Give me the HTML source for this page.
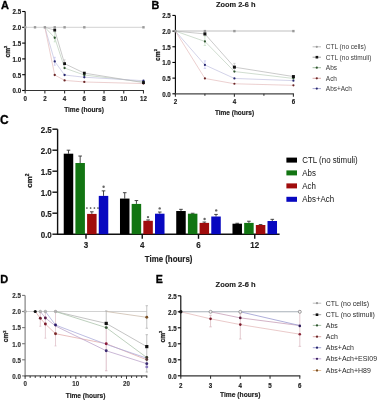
<!DOCTYPE html><html><head><meta charset="utf-8"><style>html,body{margin:0;padding:0;background:#fff;overflow:hidden}svg{display:block;filter:blur(0.25px)}</style></head><body>
<svg width="378" height="400" viewBox="0 0 378 400" font-family='"Liberation Sans", sans-serif'>
<rect width="378" height="400" fill="#fff"/>
<text x="4.90" y="8.70" font-size="11" text-anchor="middle" font-weight="bold" fill="#000" stroke="#000" stroke-width="0.3">A</text>
<line x1="25.15" y1="11.50" x2="25.15" y2="91.05" stroke="#000" stroke-width="1.1" />
<line x1="22.15" y1="11.50" x2="25.15" y2="11.50" stroke="#000" stroke-width="1.1" />
<text transform="translate(21.20 14.35) scale(1 1.07)" font-size="6.2" text-anchor="end" font-weight="bold" fill="#1c1c1c"  stroke="#1c1c1c" stroke-width="0.15">2.5</text>
<line x1="22.15" y1="27.30" x2="25.15" y2="27.30" stroke="#000" stroke-width="1.1" />
<text transform="translate(21.20 30.15) scale(1 1.07)" font-size="6.2" text-anchor="end" font-weight="bold" fill="#1c1c1c"  stroke="#1c1c1c" stroke-width="0.15">2.0</text>
<line x1="22.15" y1="43.10" x2="25.15" y2="43.10" stroke="#000" stroke-width="1.1" />
<text transform="translate(21.20 45.95) scale(1 1.07)" font-size="6.2" text-anchor="end" font-weight="bold" fill="#1c1c1c"  stroke="#1c1c1c" stroke-width="0.15">1.5</text>
<line x1="22.15" y1="58.90" x2="25.15" y2="58.90" stroke="#000" stroke-width="1.1" />
<text transform="translate(21.20 61.75) scale(1 1.07)" font-size="6.2" text-anchor="end" font-weight="bold" fill="#1c1c1c"  stroke="#1c1c1c" stroke-width="0.15">1.0</text>
<line x1="22.15" y1="74.70" x2="25.15" y2="74.70" stroke="#000" stroke-width="1.1" />
<text transform="translate(21.20 77.55) scale(1 1.07)" font-size="6.2" text-anchor="end" font-weight="bold" fill="#1c1c1c"  stroke="#1c1c1c" stroke-width="0.15">0.5</text>
<line x1="22.15" y1="90.50" x2="25.15" y2="90.50" stroke="#000" stroke-width="1.1" />
<text transform="translate(21.20 93.35) scale(1 1.07)" font-size="6.2" text-anchor="end" font-weight="bold" fill="#1c1c1c"  stroke="#1c1c1c" stroke-width="0.15">0.0</text>
<line x1="24.65" y1="90.50" x2="143.97" y2="90.50" stroke="#333" stroke-width="1.2" />
<line x1="25.15" y1="90.50" x2="25.15" y2="93.50" stroke="#333" stroke-width="1.1" />
<text transform="translate(25.15 100.60) scale(1 1.07)" font-size="6.2" text-anchor="middle" font-weight="bold" fill="#1c1c1c"  stroke="#1c1c1c" stroke-width="0.15">0</text>
<line x1="44.87" y1="90.50" x2="44.87" y2="93.50" stroke="#333" stroke-width="1.1" />
<text transform="translate(44.87 100.60) scale(1 1.07)" font-size="6.2" text-anchor="middle" font-weight="bold" fill="#1c1c1c"  stroke="#1c1c1c" stroke-width="0.15">2</text>
<line x1="64.59" y1="90.50" x2="64.59" y2="93.50" stroke="#333" stroke-width="1.1" />
<text transform="translate(64.59 100.60) scale(1 1.07)" font-size="6.2" text-anchor="middle" font-weight="bold" fill="#1c1c1c"  stroke="#1c1c1c" stroke-width="0.15">4</text>
<line x1="84.31" y1="90.50" x2="84.31" y2="93.50" stroke="#333" stroke-width="1.1" />
<text transform="translate(84.31 100.60) scale(1 1.07)" font-size="6.2" text-anchor="middle" font-weight="bold" fill="#1c1c1c"  stroke="#1c1c1c" stroke-width="0.15">6</text>
<line x1="104.03" y1="90.50" x2="104.03" y2="93.50" stroke="#333" stroke-width="1.1" />
<text transform="translate(104.03 100.60) scale(1 1.07)" font-size="6.2" text-anchor="middle" font-weight="bold" fill="#1c1c1c"  stroke="#1c1c1c" stroke-width="0.15">8</text>
<line x1="123.75" y1="90.50" x2="123.75" y2="93.50" stroke="#333" stroke-width="1.1" />
<text transform="translate(123.75 100.60) scale(1 1.07)" font-size="6.2" text-anchor="middle" font-weight="bold" fill="#1c1c1c"  stroke="#1c1c1c" stroke-width="0.15">10</text>
<line x1="143.47" y1="90.50" x2="143.47" y2="93.50" stroke="#333" stroke-width="1.1" />
<text transform="translate(143.47 100.60) scale(1 1.07)" font-size="6.2" text-anchor="middle" font-weight="bold" fill="#1c1c1c"  stroke="#1c1c1c" stroke-width="0.15">12</text>
<text transform="translate(84.00 111.50) scale(1 1.05)" font-size="6.6" text-anchor="middle" font-weight="bold" fill="#1c1c1c"  stroke="#1c1c1c" stroke-width="0.15">Time (hours)</text>
<text x="9.90" y="51.60" font-size="6.6" font-weight="bold" fill="#1c1c1c" stroke="#1c1c1c" stroke-width="0.25" text-anchor="middle" transform="rotate(-90 9.90 51.60)">cm<tspan font-size="3.96" dy="-2.64">2</tspan></text>
<polyline points="25.15,27.30 35.01,27.30 44.87,27.30 54.73,27.30 64.59,27.30 84.31,27.30 143.47,27.30" fill="none" stroke="#d2d2d2" stroke-width="1.0" opacity="1" />
<polyline points="44.87,27.30 54.73,37.73 64.59,68.06 84.31,75.02 143.47,81.97" fill="none" stroke="#bccebc" stroke-width="0.7" opacity="1" />
<polyline points="44.87,27.30 54.73,61.43 64.59,75.02 84.31,77.23 143.47,80.70" fill="none" stroke="#c0c0e0" stroke-width="0.7" opacity="1" />
<polyline points="44.87,27.30 54.73,75.02 64.59,80.39 84.31,81.97 143.47,83.55" fill="none" stroke="#e4bcbc" stroke-width="0.7" opacity="1" />
<polyline points="44.87,27.30 54.73,30.14 64.59,63.64 84.31,73.12 143.47,82.60" fill="none" stroke="#b4b4b4" stroke-width="0.7" opacity="1" />
<line x1="54.73" y1="32.36" x2="54.73" y2="41.84" stroke="#b8d8b8" stroke-width="0.6" />
<line x1="53.73" y1="32.36" x2="55.73" y2="32.36" stroke="#b8d8b8" stroke-width="0.6" />
<line x1="53.73" y1="41.84" x2="55.73" y2="41.84" stroke="#b8d8b8" stroke-width="0.6" />
<line x1="54.73" y1="57.32" x2="54.73" y2="65.22" stroke="#b8b8ee" stroke-width="0.6" />
<line x1="53.73" y1="57.32" x2="55.73" y2="57.32" stroke="#b8b8ee" stroke-width="0.6" />
<line x1="53.73" y1="65.22" x2="55.73" y2="65.22" stroke="#b8b8ee" stroke-width="0.6" />
<line x1="64.59" y1="59.85" x2="64.59" y2="67.75" stroke="#bbbbbb" stroke-width="0.6" />
<line x1="63.59" y1="59.85" x2="65.59" y2="59.85" stroke="#bbbbbb" stroke-width="0.6" />
<line x1="63.59" y1="67.75" x2="65.59" y2="67.75" stroke="#bbbbbb" stroke-width="0.6" />
<rect x="23.95" y="26.10" width="2.40" height="2.40" fill="#9a9a9a" />
<rect x="33.81" y="26.10" width="2.40" height="2.40" fill="#9a9a9a" />
<rect x="43.67" y="26.10" width="2.40" height="2.40" fill="#9a9a9a" />
<rect x="53.53" y="26.10" width="2.40" height="2.40" fill="#9a9a9a" />
<rect x="63.39" y="26.10" width="2.40" height="2.40" fill="#9a9a9a" />
<rect x="83.11" y="26.10" width="2.40" height="2.40" fill="#9a9a9a" />
<rect x="142.27" y="26.10" width="2.40" height="2.40" fill="#9a9a9a" />
<circle cx="54.73" cy="37.73" r="1.15" fill="#2f552f" stroke="none" stroke-width="0"/>
<circle cx="64.59" cy="68.06" r="1.15" fill="#2f552f" stroke="none" stroke-width="0"/>
<circle cx="84.31" cy="75.02" r="1.15" fill="#2f552f" stroke="none" stroke-width="0"/>
<circle cx="143.47" cy="81.97" r="1.15" fill="#2f552f" stroke="none" stroke-width="0"/>
<circle cx="54.73" cy="61.43" r="1.15" fill="#26266e" stroke="none" stroke-width="0"/>
<circle cx="64.59" cy="75.02" r="1.15" fill="#26266e" stroke="none" stroke-width="0"/>
<circle cx="84.31" cy="77.23" r="1.15" fill="#26266e" stroke="none" stroke-width="0"/>
<circle cx="143.47" cy="80.70" r="1.15" fill="#26266e" stroke="none" stroke-width="0"/>
<circle cx="54.73" cy="75.02" r="1.15" fill="#6a2626" stroke="none" stroke-width="0"/>
<circle cx="64.59" cy="80.39" r="1.15" fill="#6a2626" stroke="none" stroke-width="0"/>
<circle cx="84.31" cy="81.97" r="1.15" fill="#6a2626" stroke="none" stroke-width="0"/>
<circle cx="143.47" cy="83.55" r="1.15" fill="#6a2626" stroke="none" stroke-width="0"/>
<rect x="53.33" y="28.74" width="2.80" height="2.80" fill="#111" />
<rect x="63.19" y="62.24" width="2.80" height="2.80" fill="#111" />
<rect x="82.91" y="71.72" width="2.80" height="2.80" fill="#111" />
<rect x="142.07" y="81.20" width="2.80" height="2.80" fill="#111" />
<text x="155.40" y="8.55" font-size="10.8" text-anchor="middle" font-weight="bold" fill="#000" stroke="#000" stroke-width="0.3">B</text>
<text x="235.80" y="6.60" font-size="7.4" text-anchor="middle" font-weight="bold" fill="#1c1c1c"  stroke="#1c1c1c" stroke-width="0.15">Zoom 2-6 h</text>
<line x1="175.40" y1="15.42" x2="175.40" y2="94.35" stroke="#000" stroke-width="1.1" />
<line x1="172.40" y1="15.42" x2="175.40" y2="15.42" stroke="#000" stroke-width="1.1" />
<text transform="translate(170.80 18.28) scale(1 1.07)" font-size="6.2" text-anchor="end" font-weight="bold" fill="#1c1c1c"  stroke="#1c1c1c" stroke-width="0.15">2.5</text>
<line x1="172.40" y1="31.10" x2="175.40" y2="31.10" stroke="#000" stroke-width="1.1" />
<text transform="translate(170.80 33.95) scale(1 1.07)" font-size="6.2" text-anchor="end" font-weight="bold" fill="#1c1c1c"  stroke="#1c1c1c" stroke-width="0.15">2.0</text>
<line x1="172.40" y1="46.77" x2="175.40" y2="46.77" stroke="#000" stroke-width="1.1" />
<text transform="translate(170.80 49.63) scale(1 1.07)" font-size="6.2" text-anchor="end" font-weight="bold" fill="#1c1c1c"  stroke="#1c1c1c" stroke-width="0.15">1.5</text>
<line x1="172.40" y1="62.45" x2="175.40" y2="62.45" stroke="#000" stroke-width="1.1" />
<text transform="translate(170.80 65.30) scale(1 1.07)" font-size="6.2" text-anchor="end" font-weight="bold" fill="#1c1c1c"  stroke="#1c1c1c" stroke-width="0.15">1.0</text>
<line x1="172.40" y1="78.12" x2="175.40" y2="78.12" stroke="#000" stroke-width="1.1" />
<text transform="translate(170.80 80.98) scale(1 1.07)" font-size="6.2" text-anchor="end" font-weight="bold" fill="#1c1c1c"  stroke="#1c1c1c" stroke-width="0.15">0.5</text>
<line x1="172.40" y1="93.80" x2="175.40" y2="93.80" stroke="#000" stroke-width="1.1" />
<text transform="translate(170.80 96.65) scale(1 1.07)" font-size="6.2" text-anchor="end" font-weight="bold" fill="#1c1c1c"  stroke="#1c1c1c" stroke-width="0.15">0.0</text>
<line x1="174.90" y1="93.80" x2="293.90" y2="93.80" stroke="#444" stroke-width="1.3" />
<line x1="175.40" y1="93.80" x2="175.40" y2="96.80" stroke="#333" stroke-width="1.1" />
<text transform="translate(175.40 104.20) scale(1 1.07)" font-size="6.2" text-anchor="middle" font-weight="bold" fill="#1c1c1c"  stroke="#1c1c1c" stroke-width="0.15">2</text>
<line x1="204.90" y1="93.80" x2="204.90" y2="95.80" stroke="#333" stroke-width="1.1" />
<line x1="234.40" y1="93.80" x2="234.40" y2="96.80" stroke="#333" stroke-width="1.1" />
<text transform="translate(234.40 104.20) scale(1 1.07)" font-size="6.2" text-anchor="middle" font-weight="bold" fill="#1c1c1c"  stroke="#1c1c1c" stroke-width="0.15">4</text>
<line x1="263.90" y1="93.80" x2="263.90" y2="95.80" stroke="#333" stroke-width="1.1" />
<line x1="293.40" y1="93.80" x2="293.40" y2="96.80" stroke="#333" stroke-width="1.1" />
<text transform="translate(293.40 104.20) scale(1 1.07)" font-size="6.2" text-anchor="middle" font-weight="bold" fill="#1c1c1c"  stroke="#1c1c1c" stroke-width="0.15">6</text>
<text transform="translate(234.50 114.90) scale(1 1.05)" font-size="6.5" text-anchor="middle" font-weight="bold" fill="#1c1c1c"  stroke="#1c1c1c" stroke-width="0.15">Time (hours)</text>
<text x="159.60" y="55.00" font-size="6.6" font-weight="bold" fill="#1c1c1c" stroke="#1c1c1c" stroke-width="0.25" text-anchor="middle" transform="rotate(-90 159.60 55.00)">cm<tspan font-size="3.96" dy="-2.64">2</tspan></text>
<polyline points="175.40,31.10 204.90,31.10 234.40,31.10 293.40,31.10" fill="none" stroke="#d4d4d4" stroke-width="1.5" opacity="1" />
<polyline points="175.40,31.10 204.90,41.45 234.40,71.54 293.40,78.44" fill="none" stroke="#bccebc" stroke-width="0.7" opacity="1" />
<polyline points="175.40,31.10 204.90,64.96 234.40,78.44 293.40,80.63" fill="none" stroke="#c0c0e0" stroke-width="0.7" opacity="1" />
<polyline points="175.40,31.10 204.90,78.44 234.40,83.77 293.40,85.34" fill="none" stroke="#e4bcbc" stroke-width="0.7" opacity="1" />
<polyline points="175.40,31.10 204.90,33.92 234.40,67.15 293.40,76.56" fill="none" stroke="#b4b4b4" stroke-width="0.7" opacity="1" />
<line x1="204.90" y1="36.12" x2="204.90" y2="45.52" stroke="#b8d8b8" stroke-width="0.6" />
<line x1="203.70" y1="36.12" x2="206.10" y2="36.12" stroke="#b8d8b8" stroke-width="0.6" />
<line x1="203.70" y1="45.52" x2="206.10" y2="45.52" stroke="#b8d8b8" stroke-width="0.6" />
<line x1="204.90" y1="60.88" x2="204.90" y2="68.41" stroke="#b8b8ee" stroke-width="0.6" />
<line x1="203.70" y1="60.88" x2="206.10" y2="60.88" stroke="#b8b8ee" stroke-width="0.6" />
<line x1="203.70" y1="68.41" x2="206.10" y2="68.41" stroke="#b8b8ee" stroke-width="0.6" />
<line x1="204.90" y1="31.10" x2="204.90" y2="35.49" stroke="#bbbbbb" stroke-width="0.6" />
<line x1="203.70" y1="31.10" x2="206.10" y2="31.10" stroke="#bbbbbb" stroke-width="0.6" />
<line x1="203.70" y1="35.49" x2="206.10" y2="35.49" stroke="#bbbbbb" stroke-width="0.6" />
<line x1="234.40" y1="63.39" x2="234.40" y2="71.23" stroke="#bbbbbb" stroke-width="0.6" />
<line x1="233.20" y1="63.39" x2="235.60" y2="63.39" stroke="#bbbbbb" stroke-width="0.6" />
<line x1="233.20" y1="71.23" x2="235.60" y2="71.23" stroke="#bbbbbb" stroke-width="0.6" />
<rect x="174.20" y="29.90" width="2.40" height="2.40" fill="#9a9a9a" />
<rect x="203.70" y="29.90" width="2.40" height="2.40" fill="#9a9a9a" />
<rect x="233.20" y="29.90" width="2.40" height="2.40" fill="#9a9a9a" />
<rect x="292.20" y="29.90" width="2.40" height="2.40" fill="#9a9a9a" />
<circle cx="204.90" cy="41.45" r="1.1" fill="#2f552f" stroke="none" stroke-width="0"/>
<circle cx="234.40" cy="71.54" r="1.1" fill="#2f552f" stroke="none" stroke-width="0"/>
<circle cx="293.40" cy="78.44" r="1.1" fill="#2f552f" stroke="none" stroke-width="0"/>
<circle cx="204.90" cy="64.96" r="1.1" fill="#26266e" stroke="none" stroke-width="0"/>
<circle cx="234.40" cy="78.44" r="1.1" fill="#26266e" stroke="none" stroke-width="0"/>
<circle cx="293.40" cy="80.63" r="1.1" fill="#26266e" stroke="none" stroke-width="0"/>
<circle cx="204.90" cy="78.44" r="1.1" fill="#6a2626" stroke="none" stroke-width="0"/>
<circle cx="234.40" cy="83.77" r="1.1" fill="#6a2626" stroke="none" stroke-width="0"/>
<circle cx="293.40" cy="85.34" r="1.1" fill="#6a2626" stroke="none" stroke-width="0"/>
<rect x="203.40" y="32.42" width="3.00" height="3.00" fill="#111" />
<rect x="232.90" y="65.65" width="3.00" height="3.00" fill="#111" />
<rect x="291.90" y="75.06" width="3.00" height="3.00" fill="#111" />
<line x1="312.60" y1="46.80" x2="321.00" y2="46.80" stroke="#b8b8b8" stroke-width="0.9" />
<circle cx="316.80" cy="46.80" r="1.1" fill="#9a9a9a" stroke="none" stroke-width="0"/>
<text transform="translate(325.80 49.30) scale(1 1.07)" font-size="6.5" text-anchor="start" font-weight="normal" fill="#3a3a3a" >CTL (no cells)</text>
<line x1="312.60" y1="57.20" x2="321.00" y2="57.20" stroke="#999" stroke-width="0.9" />
<rect x="315.60" y="55.90" width="2.60" height="2.60" fill="#111" />
<text transform="translate(325.80 59.70) scale(1 1.07)" font-size="6.5" text-anchor="start" font-weight="normal" fill="#3a3a3a" >CTL (no stimuli)</text>
<line x1="312.60" y1="67.70" x2="321.00" y2="67.70" stroke="#9ab89a" stroke-width="0.9" />
<circle cx="316.80" cy="67.70" r="1.1" fill="#2f552f" stroke="none" stroke-width="0"/>
<text transform="translate(325.80 70.20) scale(1 1.07)" font-size="6.5" text-anchor="start" font-weight="normal" fill="#3a3a3a" >Abs</text>
<line x1="312.60" y1="78.30" x2="321.00" y2="78.30" stroke="#d8a0a0" stroke-width="0.9" />
<circle cx="316.80" cy="78.30" r="1.1" fill="#6a2626" stroke="none" stroke-width="0"/>
<text transform="translate(325.80 80.80) scale(1 1.07)" font-size="6.5" text-anchor="start" font-weight="normal" fill="#3a3a3a" >Ach</text>
<line x1="312.60" y1="88.60" x2="321.00" y2="88.60" stroke="#a0a0d0" stroke-width="0.9" />
<circle cx="316.80" cy="88.60" r="1.1" fill="#26266e" stroke="none" stroke-width="0"/>
<text transform="translate(325.80 91.10) scale(1 1.07)" font-size="6.5" text-anchor="start" font-weight="normal" fill="#3a3a3a" >Abs+Ach</text>
<text x="4.35" y="124.00" font-size="12" text-anchor="middle" font-weight="bold" fill="#000" stroke="#000" stroke-width="0.3">C</text>
<line x1="57.60" y1="129.30" x2="57.60" y2="234.90" stroke="#111" stroke-width="1.4" />
<line x1="56.90" y1="234.20" x2="279.60" y2="234.20" stroke="#111" stroke-width="1.4" />
<line x1="52.40" y1="129.20" x2="57.60" y2="129.20" stroke="#111" stroke-width="1.4" />
<text transform="translate(51.80 132.60) scale(1 1.04)" font-size="8.0" text-anchor="end" font-weight="bold" fill="#1c1c1c"  stroke="#1c1c1c" stroke-width="0.15">2.5</text>
<line x1="52.40" y1="150.20" x2="57.60" y2="150.20" stroke="#111" stroke-width="1.4" />
<text transform="translate(51.80 153.60) scale(1 1.04)" font-size="8.0" text-anchor="end" font-weight="bold" fill="#1c1c1c"  stroke="#1c1c1c" stroke-width="0.15">2.0</text>
<line x1="52.40" y1="171.20" x2="57.60" y2="171.20" stroke="#111" stroke-width="1.4" />
<text transform="translate(51.80 174.60) scale(1 1.04)" font-size="8.0" text-anchor="end" font-weight="bold" fill="#1c1c1c"  stroke="#1c1c1c" stroke-width="0.15">1.5</text>
<line x1="52.40" y1="192.20" x2="57.60" y2="192.20" stroke="#111" stroke-width="1.4" />
<text transform="translate(51.80 195.60) scale(1 1.04)" font-size="8.0" text-anchor="end" font-weight="bold" fill="#1c1c1c"  stroke="#1c1c1c" stroke-width="0.15">1.0</text>
<line x1="52.40" y1="213.20" x2="57.60" y2="213.20" stroke="#111" stroke-width="1.4" />
<text transform="translate(51.80 216.60) scale(1 1.04)" font-size="8.0" text-anchor="end" font-weight="bold" fill="#1c1c1c"  stroke="#1c1c1c" stroke-width="0.15">0.5</text>
<line x1="52.40" y1="234.20" x2="57.60" y2="234.20" stroke="#111" stroke-width="1.4" />
<text transform="translate(51.80 237.60) scale(1 1.04)" font-size="8.0" text-anchor="end" font-weight="bold" fill="#1c1c1c"  stroke="#1c1c1c" stroke-width="0.15">0.0</text>
<line x1="86.00" y1="234.20" x2="86.00" y2="238.80" stroke="#111" stroke-width="1.4" />
<text transform="translate(86.00 247.50) scale(1 1.04)" font-size="8.0" text-anchor="middle" font-weight="bold" fill="#1c1c1c"  stroke="#1c1c1c" stroke-width="0.15">3</text>
<line x1="68.48" y1="150.20" x2="68.48" y2="153.69" stroke="#333" stroke-width="0.9" />
<line x1="66.68" y1="150.20" x2="70.28" y2="150.20" stroke="#333" stroke-width="0.9" />
<rect x="63.73" y="153.69" width="9.50" height="80.51" fill="#000000" />
<line x1="80.16" y1="156.04" x2="80.16" y2="163.01" stroke="#333" stroke-width="0.9" />
<line x1="78.36" y1="156.04" x2="81.96" y2="156.04" stroke="#333" stroke-width="0.9" />
<rect x="75.41" y="163.01" width="9.50" height="71.19" fill="#127512" />
<line x1="91.84" y1="211.81" x2="91.84" y2="213.91" stroke="#333" stroke-width="0.9" />
<line x1="90.04" y1="211.81" x2="93.64" y2="211.81" stroke="#333" stroke-width="0.9" />
<rect x="87.09" y="213.91" width="9.50" height="20.29" fill="#a00c0c" />
<line x1="103.52" y1="190.86" x2="103.52" y2="195.90" stroke="#333" stroke-width="0.9" />
<line x1="101.72" y1="190.86" x2="105.32" y2="190.86" stroke="#333" stroke-width="0.9" />
<rect x="98.77" y="195.90" width="9.50" height="38.30" fill="#0808c0" />
<line x1="142.25" y1="234.20" x2="142.25" y2="238.80" stroke="#111" stroke-width="1.4" />
<text transform="translate(142.25 247.50) scale(1 1.04)" font-size="8.0" text-anchor="middle" font-weight="bold" fill="#1c1c1c"  stroke="#1c1c1c" stroke-width="0.15">4</text>
<line x1="124.73" y1="192.70" x2="124.73" y2="198.58" stroke="#333" stroke-width="0.9" />
<line x1="122.93" y1="192.70" x2="126.53" y2="192.70" stroke="#333" stroke-width="0.9" />
<rect x="119.98" y="198.58" width="9.50" height="35.62" fill="#000000" />
<line x1="136.41" y1="200.56" x2="136.41" y2="203.92" stroke="#333" stroke-width="0.9" />
<line x1="134.61" y1="200.56" x2="138.21" y2="200.56" stroke="#333" stroke-width="0.9" />
<rect x="131.66" y="203.92" width="9.50" height="30.28" fill="#127512" />
<line x1="148.09" y1="219.96" x2="148.09" y2="220.80" stroke="#333" stroke-width="0.9" />
<line x1="146.29" y1="219.96" x2="149.89" y2="219.96" stroke="#333" stroke-width="0.9" />
<rect x="143.34" y="220.80" width="9.50" height="13.40" fill="#a00c0c" />
<line x1="159.77" y1="212.02" x2="159.77" y2="213.70" stroke="#333" stroke-width="0.9" />
<line x1="157.97" y1="212.02" x2="161.57" y2="212.02" stroke="#333" stroke-width="0.9" />
<rect x="155.02" y="213.70" width="9.50" height="20.50" fill="#0808c0" />
<line x1="198.50" y1="234.20" x2="198.50" y2="238.80" stroke="#111" stroke-width="1.4" />
<text transform="translate(198.50 247.50) scale(1 1.04)" font-size="8.0" text-anchor="middle" font-weight="bold" fill="#1c1c1c"  stroke="#1c1c1c" stroke-width="0.15">6</text>
<line x1="180.98" y1="209.34" x2="180.98" y2="211.02" stroke="#333" stroke-width="0.9" />
<line x1="179.18" y1="209.34" x2="182.78" y2="209.34" stroke="#333" stroke-width="0.9" />
<rect x="176.23" y="211.02" width="9.50" height="23.18" fill="#000000" />
<line x1="192.66" y1="213.28" x2="192.66" y2="213.70" stroke="#333" stroke-width="0.9" />
<line x1="190.86" y1="213.28" x2="194.46" y2="213.28" stroke="#333" stroke-width="0.9" />
<rect x="187.91" y="213.70" width="9.50" height="20.50" fill="#127512" />
<line x1="204.34" y1="222.06" x2="204.34" y2="222.90" stroke="#333" stroke-width="0.9" />
<line x1="202.54" y1="222.06" x2="206.14" y2="222.06" stroke="#333" stroke-width="0.9" />
<rect x="199.59" y="222.90" width="9.50" height="11.30" fill="#a00c0c" />
<line x1="216.02" y1="214.42" x2="216.02" y2="216.52" stroke="#333" stroke-width="0.9" />
<line x1="214.22" y1="214.42" x2="217.82" y2="214.42" stroke="#333" stroke-width="0.9" />
<rect x="211.27" y="216.52" width="9.50" height="17.68" fill="#0808c0" />
<line x1="254.75" y1="234.20" x2="254.75" y2="238.80" stroke="#111" stroke-width="1.4" />
<text transform="translate(254.75 247.50) scale(1 1.04)" font-size="8.0" text-anchor="middle" font-weight="bold" fill="#1c1c1c"  stroke="#1c1c1c" stroke-width="0.15">12</text>
<line x1="237.23" y1="223.28" x2="237.23" y2="223.70" stroke="#333" stroke-width="0.9" />
<line x1="235.43" y1="223.28" x2="239.03" y2="223.28" stroke="#333" stroke-width="0.9" />
<rect x="232.48" y="223.70" width="9.50" height="10.50" fill="#000000" />
<line x1="248.91" y1="221.22" x2="248.91" y2="222.90" stroke="#333" stroke-width="0.9" />
<line x1="247.11" y1="221.22" x2="250.71" y2="221.22" stroke="#333" stroke-width="0.9" />
<rect x="244.16" y="222.90" width="9.50" height="11.30" fill="#127512" />
<line x1="260.59" y1="224.58" x2="260.59" y2="225.00" stroke="#333" stroke-width="0.9" />
<line x1="258.79" y1="224.58" x2="262.39" y2="224.58" stroke="#333" stroke-width="0.9" />
<rect x="255.84" y="225.00" width="9.50" height="9.20" fill="#a00c0c" />
<line x1="272.27" y1="219.33" x2="272.27" y2="221.01" stroke="#333" stroke-width="0.9" />
<line x1="270.47" y1="219.33" x2="274.07" y2="219.33" stroke="#333" stroke-width="0.9" />
<rect x="267.52" y="221.01" width="9.50" height="13.19" fill="#0808c0" />
<text transform="translate(168.60 262.20) scale(1 1.06)" font-size="7.9" text-anchor="middle" font-weight="bold" fill="#1c1c1c"  stroke="#1c1c1c" stroke-width="0.15">Time (hours)</text>
<text x="31.80" y="180.60" font-size="8.0" font-weight="bold" fill="#1c1c1c" stroke="#1c1c1c" stroke-width="0.25" text-anchor="middle" transform="rotate(-90 31.80 180.60)">cm<tspan font-size="4.80" dy="-3.20">2</tspan></text>
<circle cx="86.90" cy="208.00" r="0.85" fill="#444" stroke="none" stroke-width="0"/>
<circle cx="90.60" cy="208.00" r="0.85" fill="#444" stroke="none" stroke-width="0"/>
<circle cx="94.40" cy="208.00" r="0.85" fill="#444" stroke="none" stroke-width="0"/>
<circle cx="98.00" cy="208.00" r="0.85" fill="#444" stroke="none" stroke-width="0"/>
<circle cx="103.60" cy="186.80" r="1.2" fill="#666" stroke="none" stroke-width="0"/>
<circle cx="148.00" cy="217.10" r="1.2" fill="#666" stroke="none" stroke-width="0"/>
<circle cx="159.70" cy="208.40" r="1.2" fill="#666" stroke="none" stroke-width="0"/>
<circle cx="204.60" cy="219.00" r="1.2" fill="#666" stroke="none" stroke-width="0"/>
<circle cx="216.20" cy="210.40" r="1.2" fill="#666" stroke="none" stroke-width="0"/>
<rect x="286.40" y="157.60" width="10.60" height="5.00" fill="#000000" />
<text transform="translate(302.30 162.90) scale(1 1.08)" font-size="7.9" text-anchor="start" font-weight="normal" fill="#111" >CTL (no stimuli)</text>
<rect x="286.40" y="170.40" width="10.60" height="5.00" fill="#127512" />
<text transform="translate(302.30 175.70) scale(1 1.08)" font-size="7.9" text-anchor="start" font-weight="normal" fill="#111" >Abs</text>
<rect x="286.40" y="183.40" width="10.60" height="5.00" fill="#a00c0c" />
<text transform="translate(302.30 188.70) scale(1 1.08)" font-size="7.9" text-anchor="start" font-weight="normal" fill="#111" >Ach</text>
<rect x="286.40" y="196.80" width="10.60" height="5.00" fill="#0808c0" />
<text transform="translate(302.30 202.10) scale(1 1.08)" font-size="7.9" text-anchor="start" font-weight="normal" fill="#111" >Abs+Ach</text>
<text x="4.30" y="283.00" font-size="11" text-anchor="middle" font-weight="bold" fill="#000" stroke="#000" stroke-width="0.3">D</text>
<line x1="25.10" y1="295.40" x2="25.10" y2="376.45" stroke="#777" stroke-width="1.1" />
<line x1="22.10" y1="295.40" x2="25.10" y2="295.40" stroke="#777" stroke-width="1.1" />
<text transform="translate(20.90 298.25) scale(1 1.07)" font-size="6.2" text-anchor="end" font-weight="bold" fill="#333"  stroke="#333" stroke-width="0.15">2.5</text>
<line x1="22.10" y1="311.50" x2="25.10" y2="311.50" stroke="#777" stroke-width="1.1" />
<text transform="translate(20.90 314.35) scale(1 1.07)" font-size="6.2" text-anchor="end" font-weight="bold" fill="#333"  stroke="#333" stroke-width="0.15">2.0</text>
<line x1="22.10" y1="327.60" x2="25.10" y2="327.60" stroke="#777" stroke-width="1.1" />
<text transform="translate(20.90 330.45) scale(1 1.07)" font-size="6.2" text-anchor="end" font-weight="bold" fill="#333"  stroke="#333" stroke-width="0.15">1.5</text>
<line x1="22.10" y1="343.70" x2="25.10" y2="343.70" stroke="#777" stroke-width="1.1" />
<text transform="translate(20.90 346.55) scale(1 1.07)" font-size="6.2" text-anchor="end" font-weight="bold" fill="#333"  stroke="#333" stroke-width="0.15">1.0</text>
<line x1="22.10" y1="359.80" x2="25.10" y2="359.80" stroke="#777" stroke-width="1.1" />
<text transform="translate(20.90 362.65) scale(1 1.07)" font-size="6.2" text-anchor="end" font-weight="bold" fill="#333"  stroke="#333" stroke-width="0.15">0.5</text>
<line x1="22.10" y1="375.90" x2="25.10" y2="375.90" stroke="#777" stroke-width="1.1" />
<text transform="translate(20.90 378.75) scale(1 1.07)" font-size="6.2" text-anchor="end" font-weight="bold" fill="#333"  stroke="#333" stroke-width="0.15">0.0</text>
<line x1="24.60" y1="375.90" x2="147.28" y2="375.90" stroke="#555" stroke-width="1.2" />
<line x1="25.10" y1="375.90" x2="25.10" y2="378.90" stroke="#333" stroke-width="1.0" />
<line x1="30.17" y1="375.90" x2="30.17" y2="377.90" stroke="#333" stroke-width="1.0" />
<line x1="35.24" y1="375.90" x2="35.24" y2="377.90" stroke="#333" stroke-width="1.0" />
<line x1="40.31" y1="375.90" x2="40.31" y2="377.90" stroke="#333" stroke-width="1.0" />
<line x1="45.38" y1="375.90" x2="45.38" y2="377.90" stroke="#333" stroke-width="1.0" />
<line x1="50.45" y1="375.90" x2="50.45" y2="377.90" stroke="#333" stroke-width="1.0" />
<line x1="55.52" y1="375.90" x2="55.52" y2="377.90" stroke="#333" stroke-width="1.0" />
<line x1="60.59" y1="375.90" x2="60.59" y2="377.90" stroke="#333" stroke-width="1.0" />
<line x1="65.66" y1="375.90" x2="65.66" y2="377.90" stroke="#333" stroke-width="1.0" />
<line x1="70.73" y1="375.90" x2="70.73" y2="377.90" stroke="#333" stroke-width="1.0" />
<line x1="75.80" y1="375.90" x2="75.80" y2="378.90" stroke="#333" stroke-width="1.0" />
<line x1="80.87" y1="375.90" x2="80.87" y2="377.90" stroke="#333" stroke-width="1.0" />
<line x1="85.94" y1="375.90" x2="85.94" y2="377.90" stroke="#333" stroke-width="1.0" />
<line x1="91.01" y1="375.90" x2="91.01" y2="377.90" stroke="#333" stroke-width="1.0" />
<line x1="96.08" y1="375.90" x2="96.08" y2="377.90" stroke="#333" stroke-width="1.0" />
<line x1="101.15" y1="375.90" x2="101.15" y2="377.90" stroke="#333" stroke-width="1.0" />
<line x1="106.22" y1="375.90" x2="106.22" y2="377.90" stroke="#333" stroke-width="1.0" />
<line x1="111.29" y1="375.90" x2="111.29" y2="377.90" stroke="#333" stroke-width="1.0" />
<line x1="116.36" y1="375.90" x2="116.36" y2="377.90" stroke="#333" stroke-width="1.0" />
<line x1="121.43" y1="375.90" x2="121.43" y2="377.90" stroke="#333" stroke-width="1.0" />
<line x1="126.50" y1="375.90" x2="126.50" y2="378.90" stroke="#333" stroke-width="1.0" />
<line x1="131.57" y1="375.90" x2="131.57" y2="377.90" stroke="#333" stroke-width="1.0" />
<line x1="136.64" y1="375.90" x2="136.64" y2="377.90" stroke="#333" stroke-width="1.0" />
<line x1="141.71" y1="375.90" x2="141.71" y2="377.90" stroke="#333" stroke-width="1.0" />
<line x1="146.78" y1="375.90" x2="146.78" y2="377.90" stroke="#333" stroke-width="1.0" />
<text transform="translate(25.10 386.40) scale(1 1.07)" font-size="6.2" text-anchor="middle" font-weight="bold" fill="#333"  stroke="#333" stroke-width="0.15">0</text>
<text transform="translate(75.80 386.40) scale(1 1.07)" font-size="6.2" text-anchor="middle" font-weight="bold" fill="#333"  stroke="#333" stroke-width="0.15">10</text>
<text transform="translate(126.50 386.40) scale(1 1.07)" font-size="6.2" text-anchor="middle" font-weight="bold" fill="#333"  stroke="#333" stroke-width="0.15">20</text>
<text transform="translate(85.60 397.60) scale(1 1.05)" font-size="6.6" text-anchor="middle" font-weight="bold" fill="#1c1c1c"  stroke="#1c1c1c" stroke-width="0.15">Time (hours)</text>
<text x="8.50" y="336.40" font-size="6.5" font-weight="bold" fill="#222" stroke="#222" stroke-width="0.25" text-anchor="middle" transform="rotate(-90 8.50 336.40)">cm<tspan font-size="3.90" dy="-2.60">2</tspan></text>
<polyline points="25.10,311.50 146.78,311.50" fill="none" stroke="#d2d2d2" stroke-width="1.0" opacity="1" />
<polyline points="35.24,311.50 40.31,318.26 45.38,324.06 55.52,333.72 106.22,343.70 146.78,359.80" fill="none" stroke="#e0a8a8" stroke-width="0.75" opacity="1" />
<polyline points="40.31,311.50 45.38,317.94 55.52,325.99 106.22,350.78 146.78,363.66" fill="none" stroke="#b8a0c8" stroke-width="0.75" opacity="1" />
<polyline points="45.38,311.50 55.52,325.02 106.22,344.34 146.78,358.19" fill="none" stroke="#a8a8d8" stroke-width="0.75" opacity="1" />
<polyline points="55.52,311.50 106.22,323.41 146.78,346.60" fill="none" stroke="#b0b0b0" stroke-width="0.75" opacity="1" />
<polyline points="55.52,311.50 106.22,327.60 146.78,357.55" fill="none" stroke="#a8c0a8" stroke-width="0.75" opacity="1" />
<polyline points="106.22,311.50 146.78,317.30" fill="none" stroke="#c8b8a8" stroke-width="0.75" opacity="1" />
<line x1="40.31" y1="312.47" x2="40.31" y2="326.31" stroke="#dcbcc4" stroke-width="0.7" />
<line x1="39.31" y1="312.47" x2="41.31" y2="312.47" stroke="#dcbcc4" stroke-width="0.7" />
<line x1="39.31" y1="326.31" x2="41.31" y2="326.31" stroke="#dcbcc4" stroke-width="0.7" />
<line x1="45.38" y1="311.50" x2="45.38" y2="338.23" stroke="#dcbcc4" stroke-width="0.7" />
<line x1="44.38" y1="311.50" x2="46.38" y2="311.50" stroke="#dcbcc4" stroke-width="0.7" />
<line x1="44.38" y1="338.23" x2="46.38" y2="338.23" stroke="#dcbcc4" stroke-width="0.7" />
<line x1="55.52" y1="310.86" x2="55.52" y2="345.95" stroke="#dcbcc4" stroke-width="0.7" />
<line x1="54.52" y1="310.86" x2="56.52" y2="310.86" stroke="#dcbcc4" stroke-width="0.7" />
<line x1="54.52" y1="345.95" x2="56.52" y2="345.95" stroke="#dcbcc4" stroke-width="0.7" />
<line x1="106.22" y1="310.86" x2="106.22" y2="327.60" stroke="#b4b4b4" stroke-width="0.8" />
<line x1="105.02" y1="310.86" x2="107.42" y2="310.86" stroke="#b4b4b4" stroke-width="0.8" />
<line x1="105.02" y1="327.60" x2="107.42" y2="327.60" stroke="#b4b4b4" stroke-width="0.8" />
<line x1="106.22" y1="327.60" x2="106.22" y2="370.75" stroke="#d4b0bc" stroke-width="0.8" />
<line x1="105.02" y1="327.60" x2="107.42" y2="327.60" stroke="#d4b0bc" stroke-width="0.8" />
<line x1="105.02" y1="370.75" x2="107.42" y2="370.75" stroke="#d4b0bc" stroke-width="0.8" />
<line x1="146.78" y1="305.70" x2="146.78" y2="328.24" stroke="#b4b4b4" stroke-width="0.8" />
<line x1="145.58" y1="305.70" x2="147.98" y2="305.70" stroke="#b4b4b4" stroke-width="0.8" />
<line x1="145.58" y1="328.24" x2="147.98" y2="328.24" stroke="#b4b4b4" stroke-width="0.8" />
<line x1="146.78" y1="334.68" x2="146.78" y2="372.04" stroke="#b0b0b0" stroke-width="0.8" />
<line x1="145.58" y1="334.68" x2="147.98" y2="334.68" stroke="#b0b0b0" stroke-width="0.8" />
<line x1="145.58" y1="372.04" x2="147.98" y2="372.04" stroke="#b0b0b0" stroke-width="0.8" />
<g>
<circle cx="25.10" cy="311.50" r="1.35" fill="#b4b4b4" stroke="#8a8a8a" stroke-width="0.4"/>
<circle cx="40.31" cy="311.50" r="1.35" fill="#b4b4b4" stroke="#8a8a8a" stroke-width="0.4"/>
<circle cx="45.38" cy="311.50" r="1.35" fill="#b4b4b4" stroke="#8a8a8a" stroke-width="0.4"/>
<circle cx="55.52" cy="311.50" r="1.35" fill="#b4b4b4" stroke="#8a8a8a" stroke-width="0.4"/>
<circle cx="35.24" cy="311.50" r="1.6" fill="#111" stroke="none" stroke-width="0"/>
<circle cx="40.31" cy="318.26" r="1.45" fill="#6a1a2a" stroke="none" stroke-width="0"/>
<circle cx="45.38" cy="317.94" r="1.45" fill="#5a1a4a" stroke="none" stroke-width="0"/>
<circle cx="45.38" cy="324.06" r="1.45" fill="#7a1a2a" stroke="none" stroke-width="0"/>
<circle cx="55.52" cy="325.02" r="1.45" fill="#2a1a6a" stroke="none" stroke-width="0"/>
<circle cx="55.52" cy="333.72" r="1.45" fill="#7a2a2a" stroke="none" stroke-width="0"/>
<rect x="104.62" y="321.81" width="3.20" height="3.20" fill="#111" />
<circle cx="106.22" cy="327.60" r="1.45" fill="#3a5a3a" stroke="none" stroke-width="0"/>
<circle cx="106.22" cy="343.70" r="1.45" fill="#8a1a3a" stroke="none" stroke-width="0"/>
<circle cx="106.22" cy="350.78" r="1.45" fill="#3a2a70" stroke="none" stroke-width="0"/>
<circle cx="146.78" cy="317.30" r="1.45" fill="#7a5024" stroke="none" stroke-width="0"/>
<rect x="145.18" y="345.00" width="3.20" height="3.20" fill="#111" />
<circle cx="146.78" cy="357.55" r="1.45" fill="#3a3a2a" stroke="none" stroke-width="0"/>
<circle cx="146.78" cy="359.48" r="1.45" fill="#5a3a3a" stroke="none" stroke-width="0"/>
<circle cx="146.78" cy="363.66" r="1.45" fill="#3a2a70" stroke="none" stroke-width="0"/>
<circle cx="146.78" cy="366.88" r="1.45" fill="#8a7ac0" stroke="none" stroke-width="0"/>
</g>
<text x="159.40" y="282.80" font-size="10.6" text-anchor="middle" font-weight="bold" fill="#000" stroke="#000" stroke-width="0.3">E</text>
<text x="235.60" y="287.20" font-size="7.5" text-anchor="middle" font-weight="bold" fill="#1c1c1c"  stroke="#1c1c1c" stroke-width="0.15">Zoom 2-6 h</text>
<line x1="180.80" y1="295.80" x2="180.80" y2="376.35" stroke="#000" stroke-width="1.1" />
<line x1="177.80" y1="295.80" x2="180.80" y2="295.80" stroke="#000" stroke-width="1.1" />
<text transform="translate(176.60 298.65) scale(1 1.07)" font-size="6.2" text-anchor="end" font-weight="bold" fill="#1c1c1c"  stroke="#1c1c1c" stroke-width="0.15">2.5</text>
<line x1="177.80" y1="311.80" x2="180.80" y2="311.80" stroke="#000" stroke-width="1.1" />
<text transform="translate(176.60 314.65) scale(1 1.07)" font-size="6.2" text-anchor="end" font-weight="bold" fill="#1c1c1c"  stroke="#1c1c1c" stroke-width="0.15">2.0</text>
<line x1="177.80" y1="327.80" x2="180.80" y2="327.80" stroke="#000" stroke-width="1.1" />
<text transform="translate(176.60 330.65) scale(1 1.07)" font-size="6.2" text-anchor="end" font-weight="bold" fill="#1c1c1c"  stroke="#1c1c1c" stroke-width="0.15">1.5</text>
<line x1="177.80" y1="343.80" x2="180.80" y2="343.80" stroke="#000" stroke-width="1.1" />
<text transform="translate(176.60 346.65) scale(1 1.07)" font-size="6.2" text-anchor="end" font-weight="bold" fill="#1c1c1c"  stroke="#1c1c1c" stroke-width="0.15">1.0</text>
<line x1="177.80" y1="359.80" x2="180.80" y2="359.80" stroke="#000" stroke-width="1.1" />
<text transform="translate(176.60 362.65) scale(1 1.07)" font-size="6.2" text-anchor="end" font-weight="bold" fill="#1c1c1c"  stroke="#1c1c1c" stroke-width="0.15">0.5</text>
<line x1="177.80" y1="375.80" x2="180.80" y2="375.80" stroke="#000" stroke-width="1.1" />
<text transform="translate(176.60 378.65) scale(1 1.07)" font-size="6.2" text-anchor="end" font-weight="bold" fill="#1c1c1c"  stroke="#1c1c1c" stroke-width="0.15">0.0</text>
<line x1="180.30" y1="375.80" x2="300.30" y2="375.80" stroke="#333" stroke-width="1.2" />
<line x1="180.80" y1="375.80" x2="180.80" y2="378.80" stroke="#333" stroke-width="1.1" />
<text transform="translate(180.80 387.60) scale(1 1.07)" font-size="6.2" text-anchor="middle" font-weight="bold" fill="#1c1c1c"  stroke="#1c1c1c" stroke-width="0.15">2</text>
<line x1="210.55" y1="375.80" x2="210.55" y2="378.80" stroke="#333" stroke-width="1.1" />
<text transform="translate(210.55 387.60) scale(1 1.07)" font-size="6.2" text-anchor="middle" font-weight="bold" fill="#1c1c1c"  stroke="#1c1c1c" stroke-width="0.15">3</text>
<line x1="240.30" y1="375.80" x2="240.30" y2="378.80" stroke="#333" stroke-width="1.1" />
<text transform="translate(240.30 387.60) scale(1 1.07)" font-size="6.2" text-anchor="middle" font-weight="bold" fill="#1c1c1c"  stroke="#1c1c1c" stroke-width="0.15">4</text>
<line x1="270.05" y1="375.80" x2="270.05" y2="378.80" stroke="#333" stroke-width="1.1" />
<text transform="translate(270.05 387.60) scale(1 1.07)" font-size="6.2" text-anchor="middle" font-weight="bold" fill="#1c1c1c"  stroke="#1c1c1c" stroke-width="0.15">5</text>
<line x1="299.80" y1="375.80" x2="299.80" y2="378.80" stroke="#333" stroke-width="1.1" />
<text transform="translate(299.80 387.60) scale(1 1.07)" font-size="6.2" text-anchor="middle" font-weight="bold" fill="#1c1c1c"  stroke="#1c1c1c" stroke-width="0.15">6</text>
<text transform="translate(240.20 397.30) scale(1 1.05)" font-size="6.7" text-anchor="middle" font-weight="bold" fill="#1c1c1c"  stroke="#1c1c1c" stroke-width="0.15">Time (hours)</text>
<text x="165.00" y="336.60" font-size="6.6" font-weight="bold" fill="#1c1c1c" stroke="#1c1c1c" stroke-width="0.25" text-anchor="middle" transform="rotate(-90 165.00 336.60)">cm<tspan font-size="3.96" dy="-2.64">2</tspan></text>
<line x1="210.55" y1="315.32" x2="210.55" y2="326.84" stroke="#d8b4bc" stroke-width="0.7" />
<line x1="209.25" y1="315.32" x2="211.85" y2="315.32" stroke="#d8b4bc" stroke-width="0.7" />
<line x1="209.25" y1="326.84" x2="211.85" y2="326.84" stroke="#d8b4bc" stroke-width="0.7" />
<line x1="240.30" y1="313.72" x2="240.30" y2="339.00" stroke="#d8b4bc" stroke-width="0.7" />
<line x1="239.00" y1="313.72" x2="241.60" y2="313.72" stroke="#d8b4bc" stroke-width="0.7" />
<line x1="239.00" y1="339.00" x2="241.60" y2="339.00" stroke="#d8b4bc" stroke-width="0.7" />
<line x1="299.80" y1="310.52" x2="299.80" y2="346.36" stroke="#d8b4bc" stroke-width="0.7" />
<line x1="298.50" y1="310.52" x2="301.10" y2="310.52" stroke="#d8b4bc" stroke-width="0.7" />
<line x1="298.50" y1="346.36" x2="301.10" y2="346.36" stroke="#d8b4bc" stroke-width="0.7" />
<polyline points="180.80,311.80 299.80,311.80" fill="none" stroke="#a8b0b8" stroke-width="1.1" opacity="1" />
<polyline points="180.80,311.80 210.55,318.84 240.30,324.60 299.80,334.20" fill="none" stroke="#e4bcbc" stroke-width="0.8" opacity="1" />
<polyline points="210.55,311.80 240.30,317.88 299.80,325.56" fill="none" stroke="#c8a0b8" stroke-width="0.8" opacity="1" />
<polyline points="240.30,311.80 299.80,325.56" fill="none" stroke="#9a9ad0" stroke-width="0.8" opacity="1" />
<circle cx="210.55" cy="311.80" r="1.5" fill="#f4f4f4" stroke="#888" stroke-width="0.8"/>
<circle cx="240.30" cy="311.80" r="1.5" fill="#f4f4f4" stroke="#888" stroke-width="0.8"/>
<circle cx="299.80" cy="311.80" r="1.5" fill="#f4f4f4" stroke="#888" stroke-width="0.8"/>
<circle cx="210.55" cy="318.84" r="1.3" fill="#7a1a2a" stroke="none" stroke-width="0"/>
<circle cx="240.30" cy="317.88" r="1.3" fill="#5a1a3a" stroke="none" stroke-width="0"/>
<circle cx="240.30" cy="324.60" r="1.3" fill="#7a1a2a" stroke="none" stroke-width="0"/>
<circle cx="299.80" cy="325.88" r="1.3" fill="#2a1a5a" stroke="none" stroke-width="0"/>
<circle cx="299.80" cy="334.20" r="1.3" fill="#8a2a3a" stroke="none" stroke-width="0"/>
<circle cx="180.80" cy="311.80" r="1.7" fill="#111" stroke="none" stroke-width="0"/>
<line x1="312.80" y1="303.20" x2="321.20" y2="303.20" stroke="#b8b8b8" stroke-width="0.9" />
<circle cx="317.00" cy="303.20" r="1.15" fill="#999" stroke="none" stroke-width="0"/>
<text transform="translate(325.80 305.80) scale(1 1.07)" font-size="7.0" text-anchor="start" font-weight="normal" fill="#2a2a2a" >CTL (no cells)</text>
<line x1="312.80" y1="314.70" x2="321.20" y2="314.70" stroke="#999" stroke-width="0.9" />
<rect x="315.70" y="313.40" width="2.60" height="2.60" fill="#111" />
<text transform="translate(325.80 317.30) scale(1 1.07)" font-size="7.0" text-anchor="start" font-weight="normal" fill="#2a2a2a" >CTL (no stimuli)</text>
<line x1="312.80" y1="325.40" x2="321.20" y2="325.40" stroke="#9ab89a" stroke-width="0.9" />
<circle cx="317.00" cy="325.40" r="1.15" fill="#2f552f" stroke="none" stroke-width="0"/>
<text transform="translate(325.80 328.00) scale(1 1.07)" font-size="7.0" text-anchor="start" font-weight="normal" fill="#2a2a2a" >Abs</text>
<line x1="312.80" y1="336.70" x2="321.20" y2="336.70" stroke="#d8a0a0" stroke-width="0.9" />
<circle cx="317.00" cy="336.70" r="1.15" fill="#6a2626" stroke="none" stroke-width="0"/>
<text transform="translate(325.80 339.30) scale(1 1.07)" font-size="7.0" text-anchor="start" font-weight="normal" fill="#2a2a2a" >Ach</text>
<line x1="312.80" y1="347.70" x2="321.20" y2="347.70" stroke="#9a9ad0" stroke-width="0.9" />
<circle cx="317.00" cy="347.70" r="1.15" fill="#26266e" stroke="none" stroke-width="0"/>
<text transform="translate(325.80 350.30) scale(1 1.07)" font-size="7.0" text-anchor="start" font-weight="normal" fill="#2a2a2a" >Abs+Ach</text>
<line x1="312.80" y1="358.80" x2="321.20" y2="358.80" stroke="#c0a0d8" stroke-width="0.9" />
<circle cx="317.00" cy="358.80" r="1.15" fill="#3a2060" stroke="none" stroke-width="0"/>
<text transform="translate(325.80 361.40) scale(1 1.07)" font-size="7.0" text-anchor="start" font-weight="normal" fill="#2a2a2a" >Abs+Ach+ESI09</text>
<line x1="312.80" y1="370.50" x2="321.20" y2="370.50" stroke="#e0b890" stroke-width="0.9" />
<circle cx="317.00" cy="370.50" r="1.15" fill="#7a5024" stroke="none" stroke-width="0"/>
<text transform="translate(325.80 373.10) scale(1 1.07)" font-size="7.0" text-anchor="start" font-weight="normal" fill="#2a2a2a" >Abs+Ach+H89</text>
</svg></body></html>
